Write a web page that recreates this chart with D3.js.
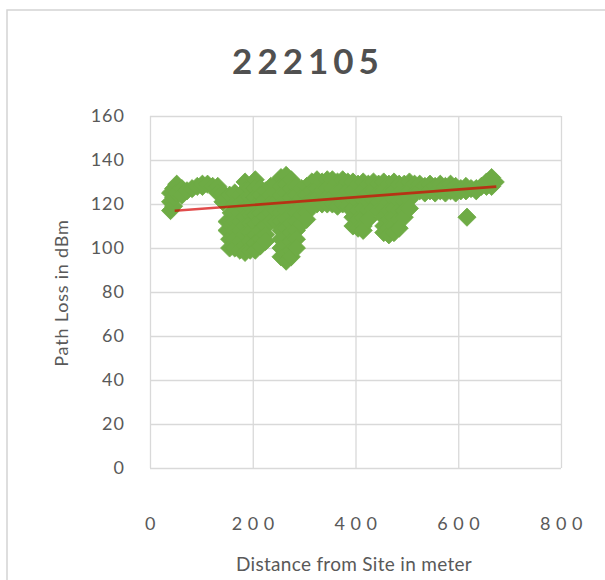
<!DOCTYPE html>
<html>
<head>
<meta charset="utf-8">
<script src="https://cdn.jsdelivr.net/npm/d3@7"></script>
<style>
  html, body { margin: 0; padding: 0; background: #fff; }
  svg { display: block; }
</style>
</head>
<body>
<svg id="chart" width="605" height="580"></svg>
<script>
// Measured path loss vs. distance from site 222105
const distance = [
  40, 40, 40, 46, 46, 46, 52, 52, 62, 62, 72, 82, 92, 102, 102, 112, 122, 132, 132,
  142, 142, 150, 150, 155, 155, 155, 158, 158,
  165, 165, 165, 165, 165, 165, 165,
  175, 175, 175, 175, 175, 175, 175,
  185, 185, 185, 185, 185, 185, 185, 185, 185,
  195, 195, 195, 195, 195, 195, 195, 195,
  205, 205, 205, 205, 205, 205, 205, 205, 205,
  215, 215, 215, 215, 215, 215, 215, 215,
  225, 225, 225, 225, 225, 225, 225,
  235, 235, 235, 235, 235,
  245, 245, 245, 245, 245,
  255, 255, 255, 255, 255, 255, 255, 255, 255, 255,
  265, 265, 265, 265, 265, 265, 265, 265, 265, 265, 265,
  275, 275, 275, 275, 275, 275, 275, 275, 275, 275,
  285, 285, 285, 285, 285, 285, 285, 285,
  295, 295, 295, 295, 295,
  305, 305, 305, 305, 305,
  315, 315, 315, 315,
  325, 325, 325, 325,
  335, 335, 335, 335,
  345, 345, 345, 345,
  355, 355, 355, 355,
  365, 365, 365, 365,
  375, 375, 375, 375,
  385, 385, 385, 385,
  395, 395, 395, 395, 395, 395,
  405, 405, 405, 405, 405, 405,
  415, 415, 415, 415, 415, 415, 415,
  425, 425, 425, 425, 425,
  435, 435, 435, 435,
  445, 445, 445, 445,
  455, 455, 455, 455, 455, 455, 455,
  465, 465, 465, 465, 465, 465, 465,
  475, 475, 475, 475, 475, 475, 475,
  485, 485, 485, 485, 485, 485,
  495, 495, 495, 495, 495,
  505, 505, 505, 505,
  515, 515, 525, 525, 535, 535, 545, 545, 555, 555, 565, 565,
  575, 575, 585, 585, 595, 595, 605, 605, 615, 615, 617,
  625, 635, 635, 645, 655, 655, 665, 665, 672
];
const pathLoss = [
  117, 121, 125, 119, 123, 127, 129, 125, 127, 124, 126, 127, 128, 128, 129, 129, 128, 128, 125,
  125, 121, 108, 112, 124, 104, 100, 116, 112,
  125, 120, 116, 112, 108, 104, 100,
  124, 120, 116, 112, 108, 103, 99,
  130, 126, 122, 118, 114, 110, 106, 101, 98,
  127, 123, 119, 115, 111, 107, 103, 99,
  131, 127, 123, 119, 115, 111, 106, 102, 99,
  127, 124, 120, 116, 112, 108, 104, 101,
  126, 122, 118, 114, 110, 106, 103,
  128, 124, 120, 116, 112,
  129, 125, 121, 117, 112,
  132, 128, 124, 120, 116, 112, 108, 104, 100, 96,
  133, 129, 125, 121, 117, 113, 109, 105, 101, 97, 94,
  131, 127, 123, 119, 115, 111, 107, 103, 99, 96,
  128, 124, 120, 116, 112, 108, 104, 100,
  127, 123, 119, 115, 111,
  128, 124, 120, 116, 113,
  130, 126, 122, 119,
  131, 127, 123, 120,
  130, 126, 122, 120,
  131, 127, 123, 120,
  131, 127, 123, 120,
  130, 126, 122, 119,
  131, 127, 123, 120,
  130, 126, 122, 119,
  130, 126, 122, 118, 114, 110,
  129, 125, 121, 117, 113, 109,
  130, 126, 122, 118, 114, 110, 108,
  129, 125, 121, 117, 113,
  130, 126, 122, 118,
  129, 125, 121, 117,
  130, 126, 122, 118, 114, 110, 107,
  129, 125, 121, 117, 113, 109, 106,
  130, 126, 122, 118, 114, 110, 107,
  129, 125, 121, 117, 113, 109,
  129, 125, 121, 117, 114,
  130, 126, 122, 118,
  129, 125, 129, 126, 128, 125, 129, 126, 128, 125, 129, 126,
  128, 125, 129, 126, 128, 125, 127, 126, 128, 126, 114,
  127, 127, 126, 128, 128, 130, 132, 128, 130
];

// Linear trendline endpoints (distance, path loss)
const trendDistance = [48, 674];
const trendLoss = [116.9, 127.9];

const xTicks = [0, 200, 400, 600, 800];
const yTicks = [0, 20, 40, 60, 80, 100, 120, 140, 160];

const chartTitle = "222105";
const xTitle = "Distance from Site in meter";
const yTitle = "Path Loss in dBm";

const svg = d3.select("#chart");
const plot = { left: 150, right: 561, top: 116, bottom: 468 };

const x = d3.scaleLinear().domain([0, 800]).range([plot.left, plot.right]);
const y = d3.scaleLinear().domain([0, 160]).range([plot.bottom, plot.top]);

const font = "Lato, 'Open Sans', 'DejaVu Sans', sans-serif";
const textColor = "#595959";
const gridColor = "#d9d9d9";

// chart frame
svg.append("rect")
  .attr("x", 7).attr("y", 10)
  .attr("width", 640).attr("height", 600)
  .attr("fill", "#fff")
  .attr("stroke", "#d4d4d4")
  .attr("stroke-width", 1.5);

// gridlines via axes
svg.append("g")
  .attr("transform", `translate(${plot.left},0)`)
  .call(d3.axisLeft(y).tickValues(yTicks).tickSize(-(plot.right - plot.left)).tickFormat(""))
  .call(g => g.select(".domain").remove())
  .call(g => g.selectAll("line").attr("stroke", gridColor).attr("stroke-width", 1.3));

svg.append("g")
  .attr("transform", `translate(0,${plot.bottom})`)
  .call(d3.axisBottom(x).tickValues(xTicks).tickSize(-(plot.bottom - plot.top)).tickFormat(""))
  .call(g => g.select(".domain").remove())
  .call(g => g.selectAll("line").attr("stroke", gridColor).attr("stroke-width", 1.3));

// tick labels
svg.append("g")
  .selectAll("text")
  .data(yTicks)
  .join("text")
  .attr("x", 125)
  .attr("y", d => y(d))
  .attr("dy", "0.35em")
  .attr("text-anchor", "end")
  .attr("font-family", font)
  .attr("font-size", 18)
  .attr("letter-spacing", 1)
  .attr("fill", textColor)
  .text(d => d);

svg.append("g")
  .selectAll("text")
  .data(xTicks)
  .join("text")
  .attr("x", d => x(d) + 3)
  .attr("y", 524)
  .attr("dy", "0.35em")
  .attr("text-anchor", "middle")
  .attr("font-family", font)
  .attr("font-size", 18)
  .attr("letter-spacing", 5.5)
  .attr("fill", textColor)
  .text(d => d);

// data markers
const diamond = d3.symbol().type(d3.symbolSquare).size(165);
const points = distance.map((d, i) => [d, pathLoss[i]]);
svg.append("g")
  .selectAll("path")
  .data(points)
  .join("path")
  .attr("d", diamond)
  .attr("transform", d => `translate(${x(d[0])},${y(d[1])}) rotate(45)`)
  .attr("fill", "#6eab45")
  .attr("stroke", "#6eab45")
  .attr("stroke-width", 0.8);

// trendline
const trend = trendDistance.map((d, i) => [d, trendLoss[i]]);
svg.append("path")
  .datum(trend)
  .attr("d", d3.line().x(d => x(d[0])).y(d => y(d[1])))
  .attr("fill", "none")
  .attr("stroke", "#d40000")
  .attr("stroke-opacity", 0.7)
  .attr("stroke-width", 2.6);

// titles
svg.append("text")
  .attr("x", 308)
  .attr("y", 62)
  .attr("dy", "0.35em")
  .attr("text-anchor", "middle")
  .attr("font-family", font)
  .attr("font-weight", "bold")
  .attr("font-size", 35)
  .attr("letter-spacing", 5)
  .attr("fill", "#505050")
  .text(chartTitle);

svg.append("text")
  .attr("x", 354)
  .attr("y", 564)
  .attr("dy", "0.35em")
  .attr("text-anchor", "middle")
  .attr("font-family", font)
  .attr("font-size", 19)
  .attr("letter-spacing", 0.3)
  .attr("fill", textColor)
  .text(xTitle);

svg.append("text")
  .attr("transform", "translate(62,293) rotate(-90)")
  .attr("dy", "0.35em")
  .attr("text-anchor", "middle")
  .attr("font-family", font)
  .attr("font-size", 18)
  .attr("letter-spacing", 0.8)
  .attr("fill", textColor)
  .text(yTitle);
</script>
</body>
</html>
